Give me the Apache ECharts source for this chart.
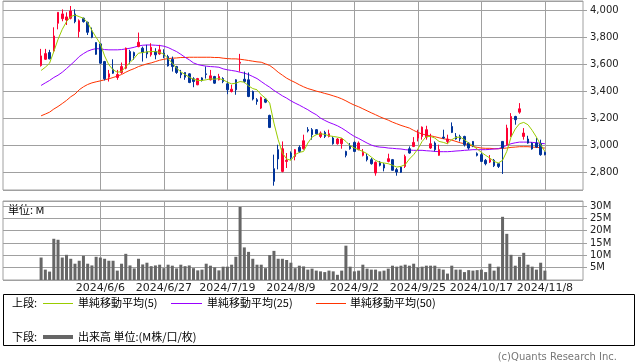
<!DOCTYPE html>
<html><head><meta charset="utf-8">
<script src="https://cdn.jsdelivr.net/npm/echarts@6/dist/echarts.min.js"></script>
<style>html,body{margin:0;padding:0;background:#fff}#c{width:638px;height:362px}</style>
</head><body><div id="c"></div>
<script>
const dates = ['2024/5/17','2024/5/20','2024/5/21','2024/5/22','2024/5/23','2024/5/24','2024/5/27','2024/5/28','2024/5/29','2024/5/30','2024/5/31',
'2024/6/3','2024/6/4','2024/6/5','2024/6/6','2024/6/7','2024/6/10','2024/6/11','2024/6/12','2024/6/13','2024/6/14','2024/6/17','2024/6/18','2024/6/19','2024/6/20','2024/6/21','2024/6/24','2024/6/25','2024/6/26','2024/6/27','2024/6/28',
'2024/7/1','2024/7/2','2024/7/3','2024/7/4','2024/7/5','2024/7/8','2024/7/9','2024/7/10','2024/7/11','2024/7/12','2024/7/16','2024/7/17','2024/7/18','2024/7/19','2024/7/22','2024/7/23','2024/7/24','2024/7/25','2024/7/26','2024/7/29','2024/7/30','2024/7/31',
'2024/8/1','2024/8/2','2024/8/5','2024/8/6','2024/8/7','2024/8/8','2024/8/9','2024/8/13','2024/8/14','2024/8/15','2024/8/16','2024/8/19','2024/8/20','2024/8/21','2024/8/22','2024/8/23','2024/8/26','2024/8/27','2024/8/28','2024/8/29','2024/8/30',
'2024/9/2','2024/9/3','2024/9/4','2024/9/5','2024/9/6','2024/9/9','2024/9/10','2024/9/11','2024/9/12','2024/9/13','2024/9/17','2024/9/18','2024/9/19','2024/9/20','2024/9/24','2024/9/25','2024/9/26','2024/9/27','2024/9/30',
'2024/10/1','2024/10/2','2024/10/3','2024/10/4','2024/10/7','2024/10/8','2024/10/9','2024/10/10','2024/10/11','2024/10/15','2024/10/16','2024/10/17','2024/10/18','2024/10/21','2024/10/22','2024/10/23','2024/10/24','2024/10/25','2024/10/28','2024/10/29','2024/10/30','2024/10/31',
'2024/11/1','2024/11/5','2024/11/6','2024/11/7','2024/11/8'];

const tickDates = ['2024/6/6','2024/6/27','2024/7/19','2024/8/9','2024/9/2','2024/9/25','2024/10/17','2024/11/8'];

const opens = [3591,3637,3687,3699,3904,3938,3928,3941,3973,3842,
3941,3911,3847,3761,3751,3620,3504,3563,3502,3539,
3571,3694,3687,3731,3719,3694,3670,3694,3677,3682,
3657,3637,3583,3534,3539,3529,3492,3448,3499,3529,
3485,3509,3485,3494,3455,3398,3485,3608,3489,3485,
3398,3337,3275,3342,3221,2826,2967,2806,2880,2942,
2917,2984,2974,3115,3115,3115,3065,3095,3065,3053,
3011,3011,2954,2996,3021,2967,2925,2917,2893,2794,
2875,2856,2880,2893,2819,2838,2843,2974,2991,3053,
3065,3060,2979,3016,2925,3060,3028,3139,3065,3065,
3065,3016,3028,2937,2930,2888,2875,2888,2863,3028,
3004,3065,3213,3245,3065,3046,3016,3016,3011,2947];

const closes = [3662,3679,3640,3810,3985,3973,3951,3995,3916,3923,
3916,3837,3800,3674,3608,3492,3529,3534,3524,3583,
3719,3628,3662,3763,3687,3677,3726,3670,3707,3662,
3588,3583,3539,3522,3504,3465,3472,3494,3480,3524,
3514,3460,3509,3472,3411,3415,3411,3615,3472,3361,
3342,3324,3354,3319,3132,2732,2898,2974,2888,2910,
2967,2954,3033,3107,3078,3085,3090,3065,3085,3011,
3046,3046,2925,2974,2954,3016,2947,2893,2863,2873,
2851,2831,2900,2814,2801,2799,2917,2942,3021,3085,
3134,3115,3011,2967,2967,3053,3046,3095,3046,3046,
3004,2979,2991,2925,2880,2863,2893,2848,2843,2979,
3127,3213,3189,3270,3090,3016,2972,2986,2930,2930];

const lows = [3583,3633,3637,3694,3859,3919,3891,3933,3904,3798,
3909,3817,3793,3670,3603,3480,3472,3529,3485,3529,
3563,3603,3633,3726,3620,3645,3657,3637,3670,3645,
3583,3546,3529,3497,3485,3460,3430,3445,3472,3494,
3480,3455,3480,3460,3378,3391,3374,3546,3460,3356,
3332,3300,3268,3312,3127,2700,2821,2799,2831,2893,
2888,2942,2967,3095,3041,3078,3053,3053,3058,3004,
3004,2974,2910,2967,2949,2962,2917,2880,2856,2774,
2843,2806,2873,2811,2774,2794,2831,2937,2986,3028,
3041,3041,2972,2954,2922,3046,3011,3090,3041,3028,
2991,2967,2986,2917,2875,2851,2868,2838,2831,2787,
2996,3060,3152,3233,3041,3011,2967,2979,2922,2925];

const highs = [3714,3714,3707,3874,3985,4007,3985,4032,4007,3933,
3946,3916,3872,3761,3756,3625,3558,3637,3558,3613,
3724,3707,3694,3835,3731,3744,3756,3719,3744,3711,
3670,3657,3588,3558,3539,3534,3504,3499,3504,3583,
3558,3514,3529,3504,3472,3448,3489,3677,3546,3539,
3405,3349,3361,3349,3226,2930,3004,3028,2942,2954,
2972,2999,3078,3134,3127,3120,3102,3107,3115,3065,
3053,3053,2959,3016,3028,3028,2972,2937,2905,2880,
2883,2868,2937,2898,2831,2843,2930,2991,3060,3115,
3139,3144,3085,3028,3004,3115,3078,3169,3090,3078,
3070,3021,3031,2947,2942,2898,2927,2898,2868,3028,
3152,3238,3218,3312,3127,3070,3021,3053,3041,2954];

const ma5 = [3554,3578,3608,3694,3785,3859,3916,3953,3965,3953,
3941,3909,3850,3800,3751,3662,3596,3559,3541,3546,
3583,3613,3645,3682,3687,3692,3694,3694,3689,3674,
3642,3608,3571,3544,3524,3504,3489,3480,3480,3485,
3492,3489,3494,3485,3467,3455,3460,3472,3467,3440,
3420,3411,3374,3349,3312,3164,3041,2942,2898,2888,
2930,2947,2954,3016,3060,3078,3085,3080,3070,3065,
3060,3053,3028,2996,2979,2967,2954,2937,2912,2888,
2873,2868,2863,2851,2838,2843,2856,2898,2930,2972,
3028,3065,3065,3053,3028,3021,3011,3041,3058,3060,
3041,3016,2996,2972,2947,2925,2905,2880,2868,2888,
2954,3060,3120,3159,3169,3152,3110,3060,3004,2954];

const ma25 = [3443,3462,3480,3502,3519,3541,3568,3596,3625,3657,
3679,3697,3709,3716,3714,3709,3707,3707,3707,3709,
3714,3719,3726,3736,3741,3743,3743,3741,3739,3734,
3724,3709,3694,3674,3652,3633,3610,3598,3591,3586,
3583,3581,3578,3566,3559,3554,3549,3541,3534,3524,
3509,3494,3472,3450,3430,3406,3386,3366,3349,3329,
3312,3297,3280,3263,3243,3226,3201,3184,3169,3157,
3144,3127,3107,3085,3065,3050,3033,3016,3001,2991,
2986,2984,2979,2977,2974,2972,2967,2964,2962,2962,
2962,2959,2957,2954,2952,2952,2952,2954,2957,2959,
2962,2964,2967,2967,2967,2967,2969,2972,2974,2986,
2999,3011,3018,3023,3023,3023,3021,3018,3014,3011];

const ma50 = [3218,3231,3245,3268,3287,3309,3332,3359,3379,3411,
3433,3450,3462,3470,3477,3485,3492,3502,3512,3524,
3541,3556,3568,3583,3593,3603,3610,3620,3630,3637,
3642,3645,3647,3650,3650,3652,3652,3652,3652,3652,
3652,3650,3650,3645,3642,3640,3640,3637,3633,3628,
3623,3618,3615,3603,3591,3568,3541,3519,3497,3480,
3465,3448,3433,3420,3411,3401,3393,3384,3376,3366,
3356,3344,3329,3312,3297,3285,3270,3255,3240,3226,
3211,3198,3186,3171,3159,3147,3137,3127,3110,3095,
3083,3075,3070,3063,3055,3048,3043,3038,3028,3018,
3011,3004,2991,2984,2979,2977,2977,2974,2974,2977,
2979,2984,2986,2989,2989,2989,2986,2984,2981,2979];

const volume = [9.1,4.2,3.4,16.7,16.3,9.1,10.2,8.6,6.6,7.8,
9.8,6.6,5.9,9.4,9.1,8.6,7.8,7.8,3.8,6.6,
10.6,5.9,4.7,8.6,6.3,7.0,5.6,5.9,6.2,4.8,
6.2,5.8,4.7,6.2,5.6,5.9,4.8,3.9,4.2,6.6,
5.8,5.1,3.9,5.4,5.4,6.2,9.4,29.6,13.2,11.4,
8.6,6.2,6.2,4.8,10.1,11.8,8.6,8.6,8.1,7.0,
4.8,5.8,5.5,4.2,4.6,3.8,3.5,3.2,3.8,3.5,
2.1,3.8,13.9,5.4,3.5,3.8,6.2,4.6,4.2,4.2,
3.5,3.8,4.6,5.8,5.4,5.8,6.2,5.8,6.6,5.1,
5.4,5.8,5.8,5.8,4.6,4.2,2.6,5.8,4.2,4.2,
3.2,4.0,3.8,4.0,4.2,3.2,6.6,3.8,5.4,25.6,
18.7,10.2,5.8,9.4,11.0,6.2,5.4,4.2,7.0,3.8];

const PAD = 9;
const cats = [];
for (let k = 0; k < PAD; k++) cats.push('pre' + k);
dates.forEach(d => cats.push(d));
for (let k = 0; k < PAD; k++) cats.push('post' + k);

const isTick = (idx, val) => tickDates.indexOf(val) >= 0;
const GRID = '#a0a0a0';
const LBL = '#222';
const JP = '"Noto Sans CJK JP", sans-serif';
const LAT = '"DejaVu Sans", sans-serif';

const candleData = dates.map((d, i) => [d, opens[i], closes[i], lows[i], highs[i]]);
const line = arr => dates.map((d, i) => [d, arr[i]]);

const chart = echarts.init(document.getElementById('c'), null, {renderer: 'canvas'});
chart.setOption({
  animation: false,
  backgroundColor: '#fff',
  grid: [
    {left: 3, right: 55, top: 1, height: 189, show: true, borderColor: GRID, borderWidth: 1, backgroundColor: 'transparent'},
    {left: 3, right: 55, top: 201, height: 79, show: true, borderColor: GRID, borderWidth: 1, backgroundColor: 'transparent'}
  ],
  xAxis: [
    {type: 'category', gridIndex: 0, data: cats, boundaryGap: false,
     axisLine: {show: false}, axisTick: {show: false}, axisLabel: {show: false},
     splitLine: {show: true, interval: isTick, lineStyle: {color: GRID, width: 1}}},
    {type: 'category', gridIndex: 1, data: cats, boundaryGap: false,
     axisLine: {show: false}, axisTick: {show: false},
     axisLabel: {show: true, interval: isTick, margin: 3, fontSize: 11, fontFamily: LAT, color: LBL},
     splitLine: {show: true, interval: isTick, lineStyle: {color: GRID, width: 1}}}
  ],
  yAxis: [
    {type: 'value', gridIndex: 0, position: 'right', min: 2668, max: 4069, minInterval: 200, maxInterval: 200,
     axisLine: {show: false},
     axisTick: {show: true, length: 4, lineStyle: {color: GRID}},
     axisLabel: {showMinLabel: false, showMaxLabel: false, margin: 7, fontSize: 10, fontFamily: LAT, color: LBL,
       formatter: v => Math.round(v).toLocaleString('en-US')},
     splitLine: {show: true, lineStyle: {color: GRID, width: 1}}},
    {type: 'value', gridIndex: 1, position: 'right', min: 0, max: 32, minInterval: 5, maxInterval: 5,
     axisLine: {show: false},
     axisTick: {show: true, length: 4, lineStyle: {color: GRID}},
     axisLabel: {showMinLabel: false, showMaxLabel: false, margin: 7, fontSize: 10, fontFamily: LAT, color: LBL,
       formatter: v => v === 0 ? '' : v + 'M'},
     splitLine: {show: true, lineStyle: {color: GRID, width: 1}}}
  ],
  series: [
    {type: 'line', name: 'MA50', xAxisIndex: 0, yAxisIndex: 0, data: line(ma50), showSymbol: false,
     lineStyle: {color: '#ff3300', width: 1}, z: 2},
    {type: 'line', name: 'MA25', xAxisIndex: 0, yAxisIndex: 0, data: line(ma25), showSymbol: false,
     lineStyle: {color: '#9900ff', width: 1}, z: 2},
    {type: 'candlestick', name: 'price', xAxisIndex: 0, yAxisIndex: 0, data: candleData,
     encode: {x: 0, y: [1, 2, 3, 4]}, barWidth: 2,
     itemStyle: {color: '#ff0033', color0: '#003399', borderColor: '#ff0033', borderColor0: '#003399', borderWidth: 1}, z: 3},
    {type: 'line', name: 'MA5', xAxisIndex: 0, yAxisIndex: 0, data: line(ma5), showSymbol: false,
     lineStyle: {color: '#99cc00', width: 1}, z: 4},
    {type: 'bar', name: 'volume', xAxisIndex: 1, yAxisIndex: 1, data: line(volume), barWidth: 3,
     itemStyle: {color: '#666666'}}
  ],
  graphic: [
    {type: 'text', x: 8, y: 210, style: {text: '単位: M', font: '11px ' + JP, fill: '#000', verticalAlign: 'middle'}},
    {type: 'rect', shape: {x: 3.5, y: 294.5, width: 631, height: 51}, style: {fill: 'none', stroke: '#000', lineWidth: 1}},
    {type: 'text', x: 12, y: 303, style: {text: '上段:', font: '11px ' + JP, fill: '#000', verticalAlign: 'middle'}},
    {type: 'line', shape: {x1: 43, y1: 303.5, x2: 73, y2: 303.5}, style: {stroke: '#99cc00', lineWidth: 1}},
    {type: 'text', x: 78, y: 303, style: {text: '単純移動平均(5)', font: '11px ' + JP, fill: '#000', verticalAlign: 'middle'}},
    {type: 'line', shape: {x1: 171, y1: 303.5, x2: 202, y2: 303.5}, style: {stroke: '#9900ff', lineWidth: 1}},
    {type: 'text', x: 207, y: 303, style: {text: '単純移動平均(25)', font: '11px ' + JP, fill: '#000', verticalAlign: 'middle'}},
    {type: 'line', shape: {x1: 316, y1: 303.5, x2: 346, y2: 303.5}, style: {stroke: '#ff3300', lineWidth: 1}},
    {type: 'text', x: 350, y: 303, style: {text: '単純移動平均(50)', font: '11px ' + JP, fill: '#000', verticalAlign: 'middle'}},
    {type: 'text', x: 12, y: 337, style: {text: '下段:', font: '11px ' + JP, fill: '#000', verticalAlign: 'middle'}},
    {type: 'line', shape: {x1: 43, y1: 337, x2: 73, y2: 337}, style: {stroke: '#666666', lineWidth: 4}},
    {type: 'text', x: 78, y: 337, style: {text: '出来高 単位:(M株/口/枚)', font: '11px ' + JP, fill: '#000', verticalAlign: 'middle'}},
    {type: 'text', x: 617, y: 357.5, style: {text: '(c)Quants Research Inc.', font: '10px ' + LAT, fill: '#777', align: 'right', verticalAlign: 'middle'}}
  ]
});
</script>
</body></html>
